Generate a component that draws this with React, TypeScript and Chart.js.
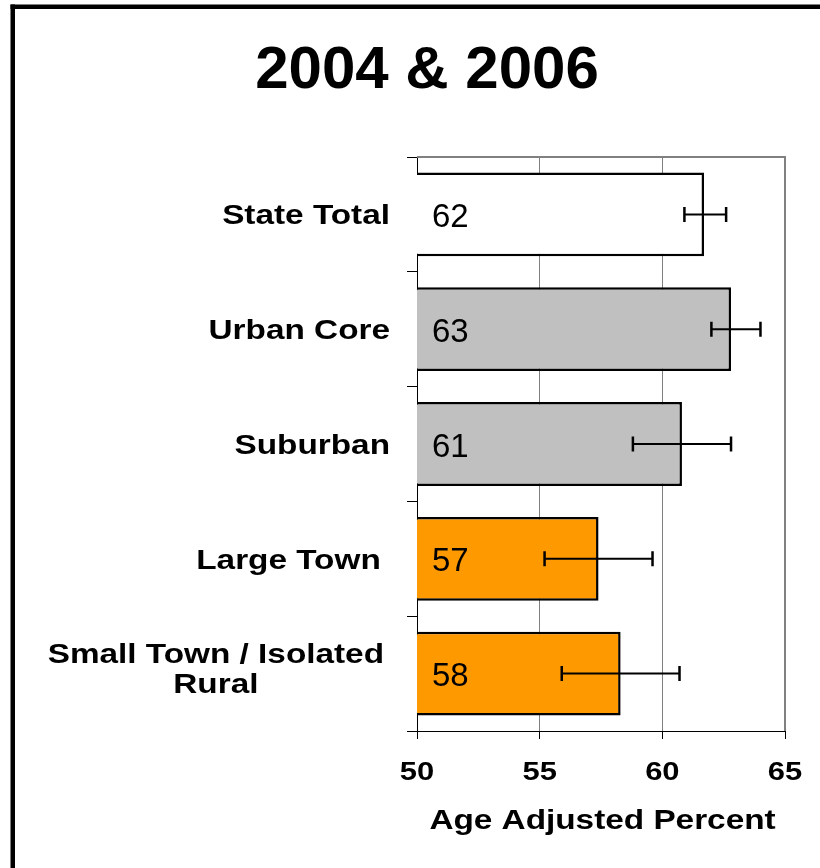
import React, { useEffect, useRef } from 'react';
import { Chart, registerables } from 'chart.js';

Chart.register(...registerables);

const TITLE = '2004 & 2006';
const CATEGORIES: (string | string[])[] = [
  'State Total',
  'Urban Core',
  'Suburban',
  'Large Town ',
  ['Small Town / Isolated', 'Rural'],
];
const VALUES = [61.7, 62.8, 60.8, 57.4, 58.3];
const CI_LOW = [60.9, 62.0, 58.8, 55.2, 55.9];
const CI_HIGH = [62.6, 64.0, 62.8, 59.6, 60.7];
const BAR_COLORS = ['#FFFFFF', '#C0C0C0', '#C0C0C0', '#FF9900', '#FF9900'];
const X_MIN = 50;
const X_MAX = 65;
const X_STEP = 5;
const X_TITLE = 'Age Adjusted Percent';

const FONT = '"Liberation Sans", Arial, Helvetica, sans-serif';
const STRETCH = 1.19;

function drawStretched(ctx: CanvasRenderingContext2D, text: string, x: number, y: number, align: CanvasTextAlign) {
  ctx.save();
  ctx.translate(x, y);
  ctx.scale(STRETCH, 1);
  ctx.textAlign = align;
  ctx.fillText(text, 0, 0);
  ctx.restore();
}

const customPlugin = {
  id: 'customDraw',
  beforeDraw(chart: any) {
    const ctx = chart.ctx;
    ctx.save();
    ctx.fillStyle = '#FFFFFF';
    ctx.fillRect(0, 0, chart.width, chart.height);
    ctx.fillStyle = '#000000';
    ctx.fillRect(10.5, 4.5, chart.width, 4.5);
    ctx.fillRect(10.5, 4.5, 4.5, chart.height);
    ctx.restore();
  },
  afterDatasetsDraw(chart: any) {
    const ctx = chart.ctx;
    const xs = chart.scales.x;
    const ys = chart.scales.y;
    ctx.save();
    ctx.strokeStyle = '#000000';
    for (let i = 0; i < VALUES.length; i++) {
      const y = ys.getPixelForValue(i);
      const x1 = xs.getPixelForValue(CI_LOW[i]);
      const x2 = xs.getPixelForValue(CI_HIGH[i]);
      ctx.lineWidth = 2;
      ctx.beginPath();
      ctx.moveTo(x1, y);
      ctx.lineTo(x2, y);
      ctx.stroke();
      ctx.lineWidth = 2.5;
      ctx.beginPath();
      ctx.moveTo(x1, y - 7.5);
      ctx.lineTo(x1, y + 7.5);
      ctx.moveTo(x2, y - 7.5);
      ctx.lineTo(x2, y + 7.5);
      ctx.stroke();
    }
    ctx.fillStyle = '#000000';
    ctx.font = `normal 33px ${FONT}`;
    ctx.textAlign = 'left';
    ctx.textBaseline = 'alphabetic';
    for (let i = 0; i < VALUES.length; i++) {
      const y = ys.getPixelForValue(i);
      ctx.fillText(String(Math.round(VALUES[i])), xs.getPixelForValue(X_MIN) + 15, y + 12.5);
    }
    ctx.restore();
  },
  afterDraw(chart: any) {
    const ctx = chart.ctx;
    const xs = chart.scales.x;
    const ys = chart.scales.y;
    const area = chart.chartArea;
    ctx.save();
    ctx.strokeStyle = '#808080';
    ctx.lineWidth = 2;
    ctx.beginPath();
    ctx.moveTo(area.left, area.top);
    ctx.lineTo(area.right, area.top);
    ctx.lineTo(area.right, area.bottom);
    ctx.stroke();

    ctx.fillStyle = '#000000';
    ctx.textBaseline = 'alphabetic';
    ctx.font = `bold 60px ${FONT}`;
    ctx.textAlign = 'center';
    ctx.fillText(TITLE, 427, 88);

    ctx.font = `bold 28px ${FONT}`;
    const rightX = area.left - 27;
    for (let i = 0; i < CATEGORIES.length; i++) {
      const c = ys.getPixelForValue(i);
      const lab = CATEGORIES[i];
      if (Array.isArray(lab)) {
        const maxW = Math.max(...lab.map((l) => ctx.measureText(l).width)) * STRETCH;
        const cx = rightX - 6 - maxW / 2;
        const offs = [-11, 19];
        lab.forEach((l, k) => drawStretched(ctx, l, cx, c + offs[k], 'center'));
      } else {
        drawStretched(ctx, lab, rightX, c + 10, 'right');
      }
    }

    ctx.font = `bold 26px ${FONT}`;
    for (let v = X_MIN; v <= X_MAX; v += X_STEP) {
      drawStretched(ctx, String(v), xs.getPixelForValue(v), 780, 'center');
    }

    ctx.font = `bold 28px ${FONT}`;
    drawStretched(ctx, X_TITLE, (area.left + area.right) / 2 + 1.5, 829, 'center');
    ctx.restore();
  },
};

export default function App() {
  const ref = useRef<HTMLCanvasElement | null>(null);
  useEffect(() => {
    if (!ref.current) return;
    const chart = new Chart(ref.current, {
      type: 'bar',
      data: {
        labels: CATEGORIES as any,
        datasets: [
          {
            data: VALUES,
            backgroundColor: BAR_COLORS,
            borderColor: '#000000',
            borderWidth: 2.5,
            borderSkipped: false,
            barPercentage: 0.73,
            categoryPercentage: 1,
          },
        ],
      },
      options: {
        indexAxis: 'y',
        responsive: false,
        animation: false,
        events: [],
        layout: { padding: { left: 407, right: 35, top: 157, bottom: 129 } },
        plugins: {
          legend: { display: false },
          tooltip: { enabled: false },
          title: { display: false },
        },
        scales: {
          x: {
            min: X_MIN,
            max: X_MAX,
            ticks: { display: false, stepSize: X_STEP },
            grid: {
              color: '#808080',
              lineWidth: 1,
              tickColor: '#000000',
              tickLength: 8,
              drawTicks: true,
            },
            border: { color: '#000000', width: 1 },
          },
          y: {
            ticks: { display: false },
            grid: {
              drawOnChartArea: false,
              drawTicks: true,
              tickLength: 10,
              color: '#000000',
              tickColor: '#000000',
              offset: true,
            },
            border: { color: '#000000', width: 1 },
          },
        },
      },
      plugins: [customPlugin],
    });
    return () => chart.destroy();
  }, []);
  return (
    <div style={{ position: 'fixed', left: 0, top: 0, width: 820, height: 868, background: '#fff' }}>
      <canvas ref={ref} width={820} height={868} style={{ display: 'block' }} />
    </div>
  );
}
